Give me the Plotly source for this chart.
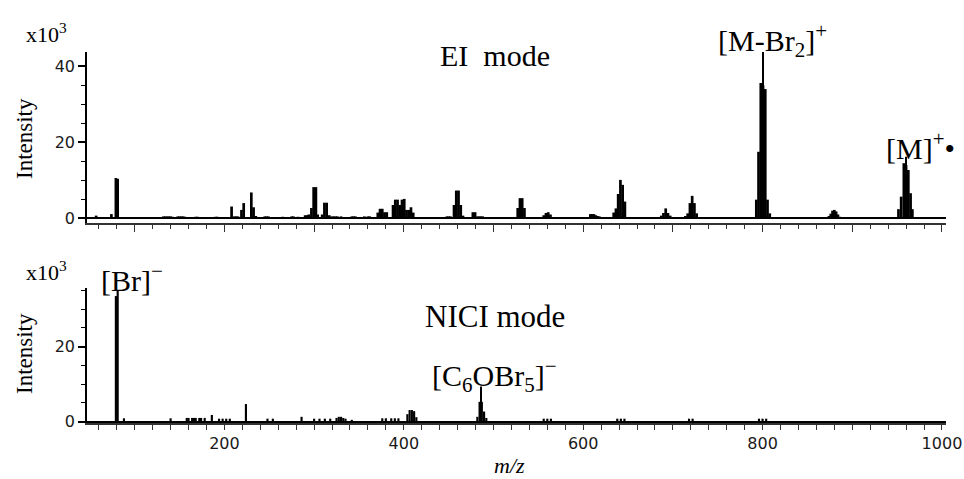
import plotly.graph_objects as go

# ---------------- data ----------------
# EI mode spectrum (m/z, intensity x10^3)
ei_mz = [57, 74, 79, 81,
         132, 134, 136, 138, 140, 142, 148, 150, 152, 154, 156, 168, 170, 190, 192,
         208, 211, 213, 215, 219, 221.5, 230, 232.5, 235,
         245, 247, 249, 265, 275, 277, 282, 290, 292, 294, 297, 299.5, 302, 304,
         309, 311.5, 314, 317, 320,
         322, 324, 326, 330, 342, 344, 346, 356, 360, 362,
         371, 373.5, 376, 378.5, 381, 388, 390.5, 393, 395.5, 398, 400.5, 403, 405.5, 408, 410.5,
         448, 450, 452, 456, 458.5, 461, 463.5, 466, 477, 479.5, 482, 484, 486, 488,
         527, 529.5, 532, 534.5, 556, 558.5, 561, 563.5,
         608, 610, 612, 614, 616, 618,
         634, 636.5, 639, 641.5, 644, 646.5,
         687, 689.5, 692, 694.5, 697,
         714, 716.5, 719, 721.5, 724, 726.5,
         793, 795.5, 798, 800.5, 803, 805.5, 808,
         874, 876, 878, 880, 882, 884, 886,
         951.5, 954.5, 957.5, 960, 962.5, 965, 967]
ei_int = [0.7, 1.1, 10.6, 10.4,
          0.5, 0.5, 0.5, 0.5, 0.5, 0.4, 0.5, 0.5, 0.5, 0.5, 0.4, 0.4, 0.4, 0.4, 0.4,
          3.1, 0.5, 0.5, 0.5, 2.2, 4.0, 6.8, 2.9, 0.6,
          0.5, 0.5, 0.5, 0.4, 0.5, 0.5, 0.4, 0.8, 0.8, 1.0, 2.7, 8.2, 8.2, 1.0,
          1.0, 4.1, 4.1, 0.8, 0.5,
          0.5, 0.5, 0.5, 0.5, 0.5, 0.5, 0.5, 0.5, 0.5, 0.5,
          1.5, 2.5, 2.5, 1.6, 1.6, 3.5, 4.9, 4.9, 3.5, 4.9, 5.1, 2.2, 2.2, 2.9, 1.5,
          0.5, 0.5, 0.5, 3.5, 7.3, 7.3, 3.5, 0.7, 1.6, 1.6, 0.5, 0.5, 0.5, 0.5,
          2.7, 5.3, 5.3, 2.7, 0.8, 1.4, 1.6, 1.0,
          1.1, 1.1, 1.1, 0.8, 0.6, 0.5,
          1.5, 2.6, 6.4, 10.1, 8.8, 4.4,
          0.7, 1.4, 2.6, 1.4, 0.7,
          0.6, 1.3, 4.0, 5.9, 4.0, 1.3,
          4.9, 17.5, 35.6, 35.0, 34.0, 4.9, 1.3,
          0.6, 1.2, 2.0, 2.2, 1.8, 1.0, 0.4,
          2.4, 5.7, 14.5, 14.0, 12.7, 6.6, 2.4]
# narrow apex lines of EI clusters
ei_apex_mz = [800.5, 960]
ei_apex_int = [43.8, 16.2]

# NICI mode spectrum
nici_mz = [79, 81, 88, 140,
           158, 160, 164, 166, 168, 172, 174, 178, 186, 194, 198, 202, 206,
           224, 248, 254, 286, 300, 306, 312, 318,
           325, 327.5, 330, 332.5, 335, 342, 376, 380, 386, 390, 394,
           404, 406.5, 409, 411.5, 414,
           482, 484.5, 487, 489.5, 492,
           556, 560, 564, 638, 642, 646, 718, 722, 796, 800, 804]
nici_int = [33.5, 35.1, 0.9, 0.9,
            1.0, 1.0, 1.0, 1.0, 1.0, 1.0, 1.0, 1.0, 1.8, 0.8, 0.8, 0.8, 0.8,
            4.7, 0.8, 0.8, 1.3, 0.8, 0.8, 0.8, 0.8,
            1.0, 1.3, 1.3, 1.0, 0.8, 0.5, 0.9, 0.9, 0.9, 0.9, 0.9,
            2.0, 3.1, 3.1, 2.8, 1.2,
            1.3, 5.3, 5.3, 2.7, 1.0,
            0.8, 0.8, 0.8, 0.8, 0.8, 0.8, 0.8, 0.8, 0.8, 0.8, 0.8]
nici_apex_mz = [486.5]
nici_apex_int = [9.4]

x_range = [46.8, 1004.5]
ei_y_range = [-1.24, 43.76]
nici_y_range = [-0.35, 35.65]
x_tick_major_bottom = 200
x_tick_minor = 20

# ---------------- figure ----------------
W, H = 964, 479
def px(x):
    return x / W
def py(y):
    return 1 - y / H

BAR_W = 3.0
fig = go.Figure()
fig.add_trace(go.Bar(x=ei_mz, y=ei_int, width=BAR_W, marker=dict(color="black", line=dict(width=0)),
                     xaxis="x", yaxis="y"))
fig.add_trace(go.Bar(x=ei_apex_mz, y=ei_apex_int, width=1.0, marker=dict(color="black", line=dict(width=0)),
                     xaxis="x", yaxis="y"))
fig.add_trace(go.Bar(x=nici_mz, y=nici_int, width=2.4, marker=dict(color="black", line=dict(width=0)),
                     xaxis="x2", yaxis="y2"))
fig.add_trace(go.Bar(x=nici_apex_mz, y=nici_apex_int, width=1.0, marker=dict(color="black", line=dict(width=0)),
                     xaxis="x2", yaxis="y2"))

tickfont = dict(family="DejaVu Sans", size=16, color="#1a1a1a")
xdom = [px(87), px(946)]

common_y = dict(showgrid=False, showline=True, linecolor="black", linewidth=1.5,
                ticks="outside", ticklen=7, tickwidth=1.5, tickcolor="black",
                tick0=0, dtick=20, tickfont=tickfont, automargin=False,
                minor=dict(dtick=5, ticks="outside", ticklen=4, tickwidth=1.2, tickcolor="black"),
                zeroline=True, zerolinecolor="black", zerolinewidth=2)

fig.update_layout(
    template="none",
    width=W, height=H, autosize=False, margin=dict(l=0, r=0, t=0, b=0, pad=0),
    paper_bgcolor="white", plot_bgcolor="white", showlegend=False, barmode="overlay",
    xaxis=dict(domain=xdom, range=x_range, anchor="y", showgrid=False, zeroline=False,
               showline=True, linecolor="#333", linewidth=1.5, automargin=False,
               ticks="outside", ticklen=7, tickwidth=1.3, tickcolor="#333",
               tick0=0, dtick=100, showticklabels=False,
               minor=dict(dtick=x_tick_minor, ticks="outside", ticklen=4, tickwidth=1.2, tickcolor="#333")),
    yaxis=dict(domain=[py(223), py(52)], range=ei_y_range, anchor="x", **common_y),
    xaxis2=dict(domain=xdom, range=x_range, anchor="y2", showgrid=False, zeroline=False,
                showline=True, linecolor="#333", linewidth=1.5, automargin=False,
                ticks="outside", ticklen=5, tickwidth=1.3, tickcolor="#333",
                tick0=0, dtick=x_tick_major_bottom, tickfont=tickfont,
                minor=dict(dtick=x_tick_minor, ticks="outside", ticklen=5, tickwidth=1.2, tickcolor="#333")),
    yaxis2=dict(domain=[py(423), py(288)], range=nici_y_range, anchor="x2", **common_y),
)

serif = "Liberation Serif"
def ann(text, x, y, size, angle=0, xanchor="center"):
    fig.add_annotation(text=text, x=px(x), y=py(y), xref="paper", yref="paper",
                       showarrow=False, textangle=angle, xanchor=xanchor, yanchor="middle",
                       font=dict(family=serif, size=size, color="black"))

ann("x10<sup>3</sup>", 24, 33, 22, xanchor="left")
ann("Intensity", 24, 139, 23, angle=-90)
ann("x10<sup>3</sup>", 24, 271, 22, xanchor="left")
ann("Intensity", 24, 354, 23, angle=-90)
ann("EI\u00a0\u00a0mode", 495, 56, 30)
ann("[M-Br<sub>2</sub>]<sup>+</sup>", 772, 40, 30)
ann("[M]<sup>+</sup>\u2022", 920, 146, 30)
ann("[Br]<sup>\u2212</sup>", 132, 278, 30)
ann("NICI mode", 495, 316, 31)
ann("[C<sub>6</sub>OBr<sub>5</sub>]<sup>\u2212</sup>", 495, 375, 30)
ann("<i>m/z</i>", 509, 465, 22)

fig.write_html("out.html", config={"displayModeBar": False, "responsive": False},
               post_script="document.body.style.margin='0';document.body.style.overflow='hidden';")
